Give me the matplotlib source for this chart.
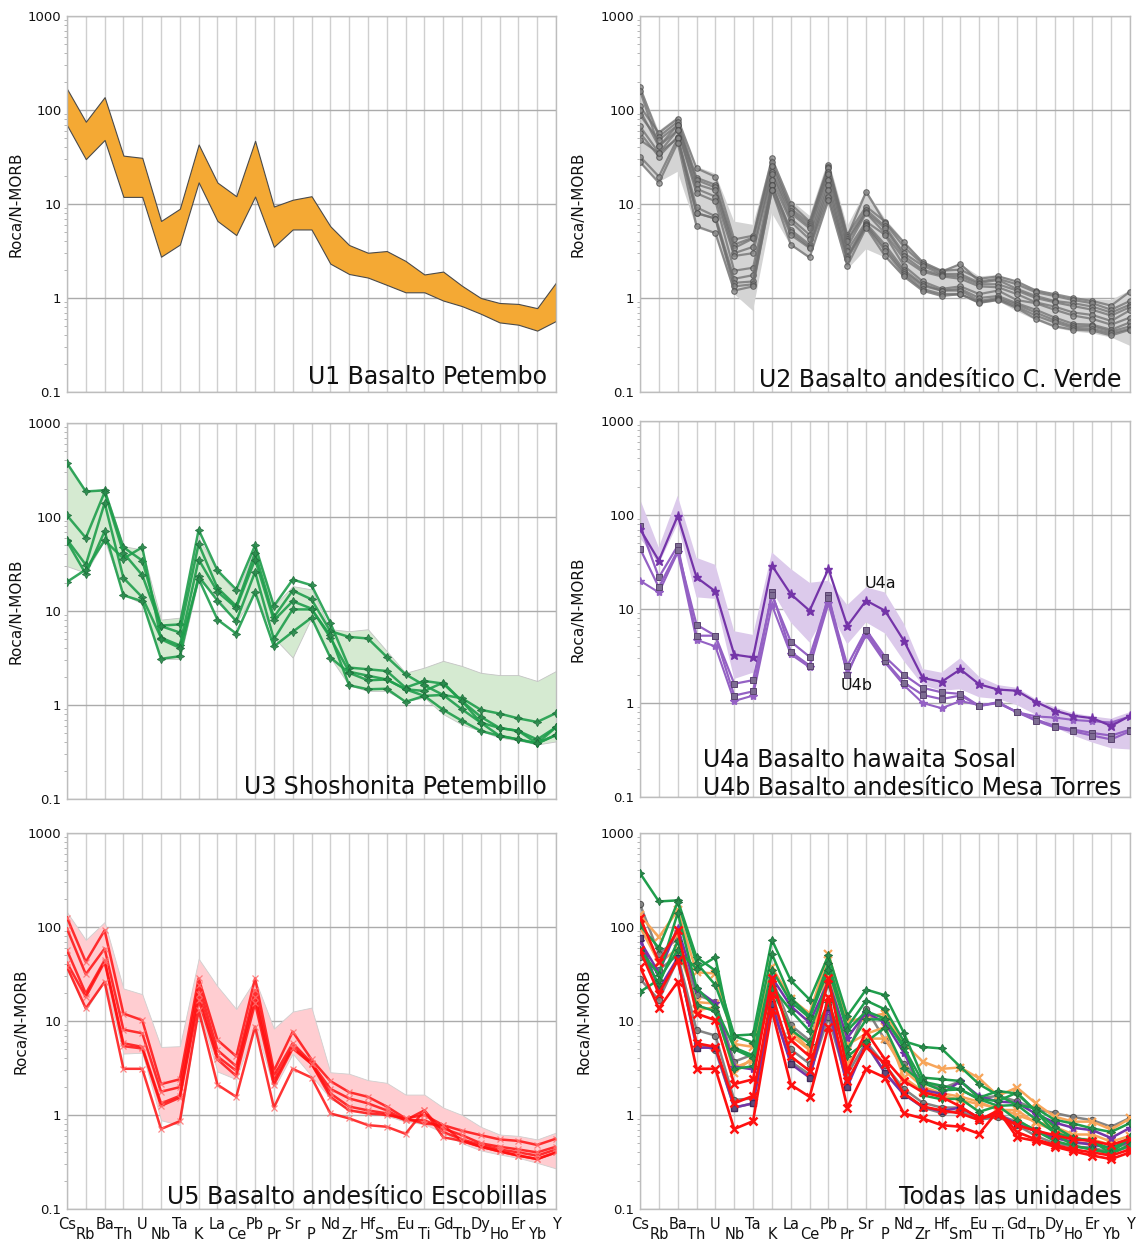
import numpy as np
import matplotlib
matplotlib.use('Agg')
import matplotlib.pyplot as plt
from matplotlib.ticker import LogLocator, NullFormatter

elements = ['Cs', 'Rb', 'Ba', 'Th', 'U', 'Nb', 'Ta', 'K', 'La', 'Ce', 'Pb', 'Pr', 'Sr', 'P',
            'Nd', 'Zr', 'Hf', 'Sm', 'Eu', 'Ti', 'Gd', 'Tb', 'Dy', 'Ho', 'Er', 'Yb', 'Y']
ytick_vals = [0.1, 1, 10, 100, 1000]
ytick_labels = ['0.1', '1', '10', '100', '1000']

# ---------------- U1 (band only) ----------------
u1_upper = [168, 75, 137, 32.7, 31, 6.6, 8.9, 43, 16.9, 12.1, 47, 9.4, 11.1, 12.1, 5.8, 3.66,
            3.03, 3.16, 2.48, 1.78, 1.91, 1.35, 1.0, 0.885, 0.865, 0.78, 1.46]
u1_lower = [69, 30, 48, 11.9, 11.9, 2.75, 3.7, 17, 6.6, 4.67, 12, 3.5, 5.36, 5.36, 2.32, 1.8,
            1.65, 1.38, 1.15, 1.15, 0.94, 0.82, 0.68, 0.55, 0.52, 0.45, 0.57]

# ---------------- U2 ----------------
u2_upper = [180, 60, 85, 25, 21, 6.5, 6.0, 32, 11, 7.5, 30, 5.8, 14, 7, 4.1, 2.5, 2.0, 2.3,
            1.7, 1.75, 1.5, 1.25, 1.1, 1.0, 0.97, 0.95, 1.2]
u2_lower = [27, 17, 22, 5.5, 4.8, 1.1, 0.73, 8, 3.6, 2.6, 10.5, 2.0, 3.3, 2.7, 1.65, 1.15, 1.05,
            1.05, 0.86, 0.93, 0.72, 0.58, 0.48, 0.44, 0.42, 0.38, 0.31]
u2_samples = [
    [109, 57, 81, 24, 19.5, 4.2, 4.6, 30.5, 10, 6.5, 26, 4.7, 9.4, 6.5, 3.9, 2.4, 1.95, 2.0, 1.6, 1.7, 1.5, 1.2, 1.1, 1.0, 0.93, 0.83, 1.17],
    [175, 52, 75, 19, 16, 3.7, 4.4, 28, 9, 6.2, 25, 4.5, 13.5, 6.3, 3.5, 2.3, 1.9, 2.3, 1.5, 1.6, 1.4, 1.15, 1.05, 0.95, 0.88, 0.75, 0.93],
    [88, 48, 69, 18, 15, 3.4, 4.3, 25.3, 8.5, 5.8, 24, 4.2, 8.7, 5.8, 3.0, 2.2, 1.8, 1.8, 1.45, 1.55, 1.25, 1.05, 0.93, 0.88, 0.81, 0.7, 0.85],
    [99, 41, 69, 16.2, 14, 3.0, 3.5, 22, 8, 5.5, 22, 4.0, 8.2, 5.5, 2.8, 2.0, 1.75, 1.7, 1.4, 1.4, 1.2, 1.0, 0.9, 0.82, 0.75, 0.65, 0.8],
    [161, 41, 61, 14.5, 12, 2.8, 3.0, 21, 7, 4.7, 21, 3.5, 8, 4.9, 2.6, 1.9, 1.7, 1.6, 1.33, 1.3, 1.1, 0.9, 0.81, 0.7, 0.66, 0.57, 0.74],
    [67, 35, 61, 13, 10.7, 1.95, 2.1, 18, 6.5, 4.2, 18, 3.2, 6.5, 4.7, 2.2, 1.5, 1.25, 1.33, 1.1, 1.2, 0.95, 0.88, 0.75, 0.65, 0.6, 0.52, 0.62],
    [57, 32, 52, 9.2, 7.4, 1.6, 1.75, 16, 5.3, 3.7, 16, 2.8, 6.2, 3.7, 2.0, 1.4, 1.2, 1.25, 1.0, 1.05, 0.88, 0.75, 0.62, 0.53, 0.52, 0.46, 0.55],
    [48, 35, 50, 8, 7, 1.45, 1.5, 16, 5.0, 3.5, 14, 2.7, 6, 3.4, 1.9, 1.35, 1.2, 1.2, 0.93, 1.0, 0.85, 0.7, 0.58, 0.5, 0.5, 0.44, 0.5],
    [32, 19.6, 50, 8, 7, 1.33, 1.4, 14, 4.7, 3.4, 12, 2.6, 5.8, 3.2, 1.8, 1.25, 1.1, 1.1, 0.9, 0.97, 0.81, 0.65, 0.55, 0.48, 0.47, 0.42, 0.47],
    [28, 16.8, 45, 5.8, 4.9, 1.2, 1.33, 14, 3.7, 2.7, 11, 2.2, 5.6, 2.8, 1.7, 1.2, 1.05, 1.1, 0.89, 0.95, 0.78, 0.6, 0.5, 0.46, 0.45, 0.40, 0.46],
]

# ---------------- U3 ----------------
u3_upper = [374, 188, 200, 49, 45, 8.1, 8.5, 60, 26.5, 15.6, 47, 11.3, 18.4, 17, 6.4, 6.1, 6.4,
            3.75, 2.2, 2.5, 2.95, 2.6, 2.2, 2.08, 2.08, 1.8, 2.3]
u3_lower = [30, 25.5, 57, 15, 12, 3.1, 3.1, 21.6, 14, 7.5, 16, 5.2, 3.2, 8.5, 3.2, 1.62, 1.41,
            1.41, 1.1, 1.2, 0.8, 0.62, 0.53, 0.45, 0.42, 0.38, 0.41]
u3_samples = [
    [374, 187, 192, 47.6, 34.4, 7.0, 7.2, 73, 27, 16.9, 50, 11.3, 21.6, 18.8, 7.5, 2.5, 2.4, 2.3, 1.53, 1.8, 1.69, 1.10, 0.75, 0.57, 0.53, 0.43, 0.58],
    [104, 60, 184, 41.5, 24.1, 6.9, 5.9, 51.7, 17.6, 11.3, 41.5, 8.6, 16.5, 13.3, 6.1, 5.3, 5.1, 3.25, 2.12, 1.62, 1.28, 1.18, 0.89, 0.81, 0.72, 0.66, 0.82],
    [57.5, 31, 141, 22.5, 14, 5.2, 4.3, 35.3, 16, 10.8, 35.3, 7.95, 12.7, 10.6, 5.2, 2.26, 2.05, 1.87, 1.47, 1.41, 1.73, 1.10, 0.65, 0.57, 0.53, 0.39, 0.58],
    [55, 24.8, 70.5, 14.7, 12.7, 3.1, 3.3, 23.4, 12.9, 7.8, 26.1, 5.0, 10.4, 10.4, 5.5, 1.62, 1.47, 1.49, 1.08, 1.25, 1.28, 0.9, 0.65, 0.47, 0.43, 0.39, 0.48],
    [20.4, 27.6, 56.5, 36.1, 47.6, 5.0, 4.05, 22, 8.1, 5.75, 15.9, 4.2, 6.0, 8.5, 3.2, 2.2, 1.83, 1.87, 1.47, 1.25, 0.89, 0.68, 0.53, 0.47, 0.43, 0.39, 0.48],
]

# ---------------- U4 ----------------
u4_upper = [148, 45, 160, 35, 29.5, 5.8, 5.3, 40, 26.7, 19, 20, 11, 17, 15, 7, 2.3, 2.1, 3.0,
            1.9, 1.55, 1.45, 1.1, 0.9, 0.78, 0.72, 0.68, 0.8]
u4_lower = [57, 30, 80, 13.3, 12.8, 1.8, 2.1, 15.7, 7.2, 4.4, 10, 4.2, 7.2, 5.5, 2.8, 1.55, 1.35,
            1.4, 1.15, 1.1, 0.95, 0.75, 0.55, 0.45, 0.38, 0.33, 0.32]
u4a_sample = [71, 32.7, 98, 21.7, 15.4, 3.27, 3.06, 29, 14.4, 9.6, 26.7, 6.6, 12.3, 9.6, 4.6, 1.85,
              1.68, 2.28, 1.58, 1.39, 1.35, 1.03, 0.83, 0.73, 0.69, 0.57, 0.73]
u4b_samples = [
    [77, 21.7, 47, 5.2, 5.2, 1.2, 1.33, 15, 3.5, 2.5, 14, 2.0, 5.8, 2.8, 1.65, 1.22, 1.1, 1.2, 0.93, 1.02, 0.8, 0.67, 0.57, 0.52, 0.48, 0.45, 0.52],
    [44, 17, 42, 6.8, 5.2, 1.6, 1.75, 14, 4.5, 3.1, 13, 2.5, 6.0, 3.1, 2.0, 1.45, 1.3, 1.25, 0.93, 1.0, 0.8, 0.65, 0.55, 0.5, 0.45, 0.41, 0.5],
]
u4b_star_sample = [20, 15, 40, 4.7, 4.0, 1.05, 1.2, 11, 3.3, 2.4, 11.5, 2.1, 5.3, 2.7, 1.55, 1.0, 0.88,
                   1.05, 0.95, 1.0, 0.8, 0.72, 0.7, 0.66, 0.64, 0.62, 0.72]

# ---------------- U5 ----------------
u5_upper = [144, 73, 113, 22.2, 19.3, 5.3, 5.4, 46, 23.4, 13.4, 27.6, 8.3, 12.6, 13.9, 2.85, 2.75,
            2.35, 2.2, 1.65, 1.65, 1.2, 1.0, 0.75, 0.62, 0.6, 0.55, 0.65]
u5_lower = [36, 13, 27, 4.5, 4.6, 0.88, 0.78, 13.6, 2.9, 2.4, 9, 1.9, 4.5, 2.6, 1.5, 1.15, 1.05,
            0.98, 0.85, 0.8, 0.65, 0.5, 0.42, 0.38, 0.35, 0.31, 0.27]
u5_samples = [
    [126, 42.5, 92.2, 12, 10.2, 2.13, 2.4, 28.4, 6.28, 4.2, 28.4, 2.95, 7.7, 3.9, 2.3, 1.75, 1.56, 1.23, 0.92, 1.0, 0.78, 0.68, 0.61, 0.55, 0.53, 0.48, 0.56],
    [96, 31.4, 58.9, 8.1, 7.4, 1.77, 1.98, 24.2, 4.9, 3.3, 21.3, 2.6, 5.8, 3.6, 1.9, 1.5, 1.33, 1.12, 0.88, 0.88, 0.72, 0.61, 0.5, 0.46, 0.43, 0.4, 0.46],
    [56.5, 19.6, 44.3, 5.8, 5.3, 1.33, 1.6, 19.6, 4.2, 2.95, 18.1, 2.3, 5.3, 3.5, 1.7, 1.23, 1.12, 1.04, 0.88, 1.12, 0.66, 0.55, 0.48, 0.43, 0.4, 0.37, 0.43],
    [41.5, 18.1, 42.5, 5.4, 5.1, 1.25, 1.53, 16.6, 3.9, 2.6, 15.4, 2.1, 5.1, 3.5, 1.56, 1.12, 1.04, 1.0, 0.92, 0.81, 0.78, 0.53, 0.46, 0.41, 0.37, 0.34, 0.40],
    [37.6, 13.6, 26.1, 3.1, 3.1, 0.71, 0.86, 13.0, 2.1, 1.56, 8.7, 1.2, 3.1, 2.5, 1.04, 0.92, 0.78, 0.75, 0.63, 1.12, 0.58, 0.53, 0.46, 0.41, 0.37, 0.34, 0.40],
]

# ---------------- All units: U1 representative samples ----------------
u1_samples = [
    [133, 78, 150, 33, 32, 5.7, 5.3, 37.5, 17.3, 12, 52, 9.8, 11, 12, 5.8, 3.7, 3.1, 3.2, 2.45, 1.6, 1.96, 1.33, 0.96, 0.85, 0.85, 0.7, 0.92],
    [122, 41, 59, 15.9, 15.3, 3.2, 3.8, 23, 8, 5, 38, 3.5, 6.5, 6.5, 3.0, 2.0, 1.7, 1.57, 1.38, 1.13, 1.13, 0.82, 0.69, 0.56, 0.55, 0.48, 0.54],
    [100, 42, 85, 13, 14, 2.8, 4.1, 28, 7, 4.9, 32, 5.6, 7.3, 8.6, 2.5, 1.8, 1.6, 1.45, 1.3, 1.2, 1.0, 0.85, 0.75, 0.62, 0.62, 0.52, 0.6],
]

x = np.arange(len(elements))

C_ORANGE = '#f4a934'
C_ORANGE_L = '#f7a55a'
C_GRAY = '#6f6f6f'
C_GREEN = '#1f9e4c'
C_PURPLE = '#7434a8'
C_PURPLE_L = '#9461c4'
C_RED = '#ff1010'

fig = plt.figure(figsize=(11.4, 12.43), dpi=100)
W, H = 1140.0, 1243.0


def make_ax(left_px, top_px, right_px, bottom_px):
    return fig.add_axes([left_px / W, 1 - bottom_px / H, (right_px - left_px) / W,
                         (bottom_px - top_px) / H])


def setup(ax, show_x, ylab_x):
    ax.set_yscale('log')
    ax.set_ylim(0.1, 1000)
    ax.set_xlim(0, len(elements) - 1)
    ax.set_yticks(ytick_vals)
    ax.set_yticklabels(ytick_labels)
    ax.yaxis.set_minor_locator(LogLocator(base=10, subs=np.arange(2, 10)))
    ax.yaxis.set_minor_formatter(NullFormatter())
    ax.set_xticks(x[::2])
    ax.set_xticks(x[1::2], minor=True)
    if show_x:
        ax.set_xticklabels(elements[::2])
        ax.set_xticklabels(elements[1::2], minor=True)
    else:
        ax.set_xticklabels([])
        ax.set_xticklabels([], minor=True)
    ax.tick_params(axis='x', which='both', length=0, labelsize=10.5, colors='#111111')
    ax.tick_params(axis='x', which='major', pad=6)
    ax.tick_params(axis='x', which='minor', pad=13)
    ax.tick_params(axis='y', which='major', length=0, pad=4, labelsize=9.5, colors='#111111')
    ax.tick_params(axis='y', which='minor', length=2.5, width=0.6, color='#aaaaaa')
    ax.grid(axis='x', which='both', color='#cfcfcf', lw=1.0)
    ax.grid(axis='y', which='major', color='#ababab', lw=1.0)
    for sp in ax.spines.values():
        sp.set_color('#bdbdbd')
        sp.set_linewidth(1.0)
    ax.set_axisbelow(True)
    ax.set_ylabel('Roca/N-MORB', fontsize=11, color='#111111')
    ax.yaxis.set_label_coords(ylab_x, 0.5)


def title(ax, s, y=0.012):
    ax.text(0.982, y, s, transform=ax.transAxes, ha='right', va='baseline',
            fontsize=17, color='#111111', multialignment='left', linespacing=1.2, zorder=10)


ax1 = make_ax(67, 16, 556, 392)
ax2 = make_ax(640, 16, 1130, 392)
ax3 = make_ax(67, 423, 556, 799)
ax4 = make_ax(640, 421, 1130, 797)
ax5 = make_ax(67, 833, 556, 1209)
ax6 = make_ax(640, 833, 1130, 1209)

setup(ax1, False, -0.088)
setup(ax2, False, -0.112)
setup(ax3, False, -0.088)
setup(ax4, False, -0.112)
setup(ax5, True, -0.078)
setup(ax6, True, -0.098)

# U1
ax1.fill_between(x, u1_lower, u1_upper, facecolor=C_ORANGE, edgecolor='#4a4a4a', lw=0.8, zorder=2)
title(ax1, 'U1 Basalto Petembo', y=0.02)

# U2
ax2.fill_between(x, u2_lower, u2_upper, facecolor='#d4d4d4', edgecolor='none', zorder=1)
for s in u2_samples:
    ax2.plot(x, s, color=C_GRAY, lw=1.6, alpha=0.75, marker='o', ms=4, mfc='#8a8a8a',
             mec='#4a4a4a', mew=0.8, zorder=3)
title(ax2, 'U2 Basalto andesítico C. Verde')

# U3
ax3.fill_between(x, u3_lower, u3_upper, facecolor='#d5ead1', edgecolor='#c4c4c4', lw=0.6, zorder=1)
for s in u3_samples:
    ax3.plot(x, s, color=C_GREEN, lw=1.8, alpha=0.9, marker=(4, 1, 0), ms=6, mfc='#2a8a4c',
             mec='#1d6e3a', mew=0.6, zorder=3)
title(ax3, 'U3 Shoshonita Petembillo')

# U4
ax4.fill_between(x, u4_lower, u4_upper, facecolor='#dccaeb', edgecolor='none', zorder=1)
ax4.plot(x, u4b_star_sample, color=C_PURPLE_L, lw=1.5, marker='*', ms=6, mfc=C_PURPLE_L,
         mec=C_PURPLE_L, zorder=3)
for s in u4b_samples:
    ax4.plot(x, s, color=C_PURPLE_L, lw=1.6, marker='s', ms=4, mfc='#7d6c92', mec='#5a4370',
             mew=0.7, zorder=3)
ax4.plot(x, u4a_sample, color=C_PURPLE, lw=1.6, marker='*', ms=6.5, mfc=C_PURPLE, mec=C_PURPLE,
         zorder=4)
ax4.text(12.75, 18.5, 'U4a', ha='center', va='center', fontsize=11.5, color='#111111', zorder=10)
ax4.text(11.5, 1.55, 'U4b', ha='center', va='center', fontsize=11.5, color='#111111', zorder=10)
title(ax4, 'U4a Basalto hawaita Sosal\nU4b Basalto andesítico Mesa Torres', y=0.005)

# U5
ax5.fill_between(x, u5_lower, u5_upper, facecolor='#ffcdd1', edgecolor='#cfcfcf', lw=0.6, zorder=1)
for s in u5_samples:
    ax5.plot(x, s, color=C_RED, lw=1.8, alpha=0.85, marker='x', ms=4, mec='#ff7070', mew=0.9,
             zorder=3)
title(ax5, 'U5 Basalto andesítico Escobillas')

# All units
for s in [u2_samples[1], u2_samples[7], u2_samples[9]]:
    ax6.plot(x, s, color=C_GRAY, lw=1.8, alpha=0.85, marker='o', ms=4.5, mfc='#7a7a7a',
             mec='#444444', mew=0.8, zorder=3)
for s in u1_samples:
    ax6.plot(x, s, color=C_ORANGE_L, lw=1.8, marker='x', ms=6, mew=1.6, zorder=3)
for s in [u4a_sample, u4b_samples[0]]:
    mk = '*' if s is u4a_sample else 's'
    ax6.plot(x, s, color=C_PURPLE, lw=1.8, marker=mk, ms=6 if mk == '*' else 4.5,
             mfc=C_PURPLE if mk == '*' else '#5e4a7a', mec='#3e2a5a' if mk == 's' else C_PURPLE,
             zorder=4)
for s in u3_samples:
    ax6.plot(x, s, color=C_GREEN, lw=1.8, marker=(4, 1, 0), ms=6, mfc='#2a8a4c', mec='#1d6e3a',
             mew=0.6, zorder=4)
for s in [u5_samples[0], u5_samples[2], u5_samples[4]]:
    ax6.plot(x, s, color=C_RED, lw=1.9, marker='x', ms=6, mew=1.8, zorder=5)
title(ax6, 'Todas las unidades')

fig.savefig('out.png', dpi=100)
